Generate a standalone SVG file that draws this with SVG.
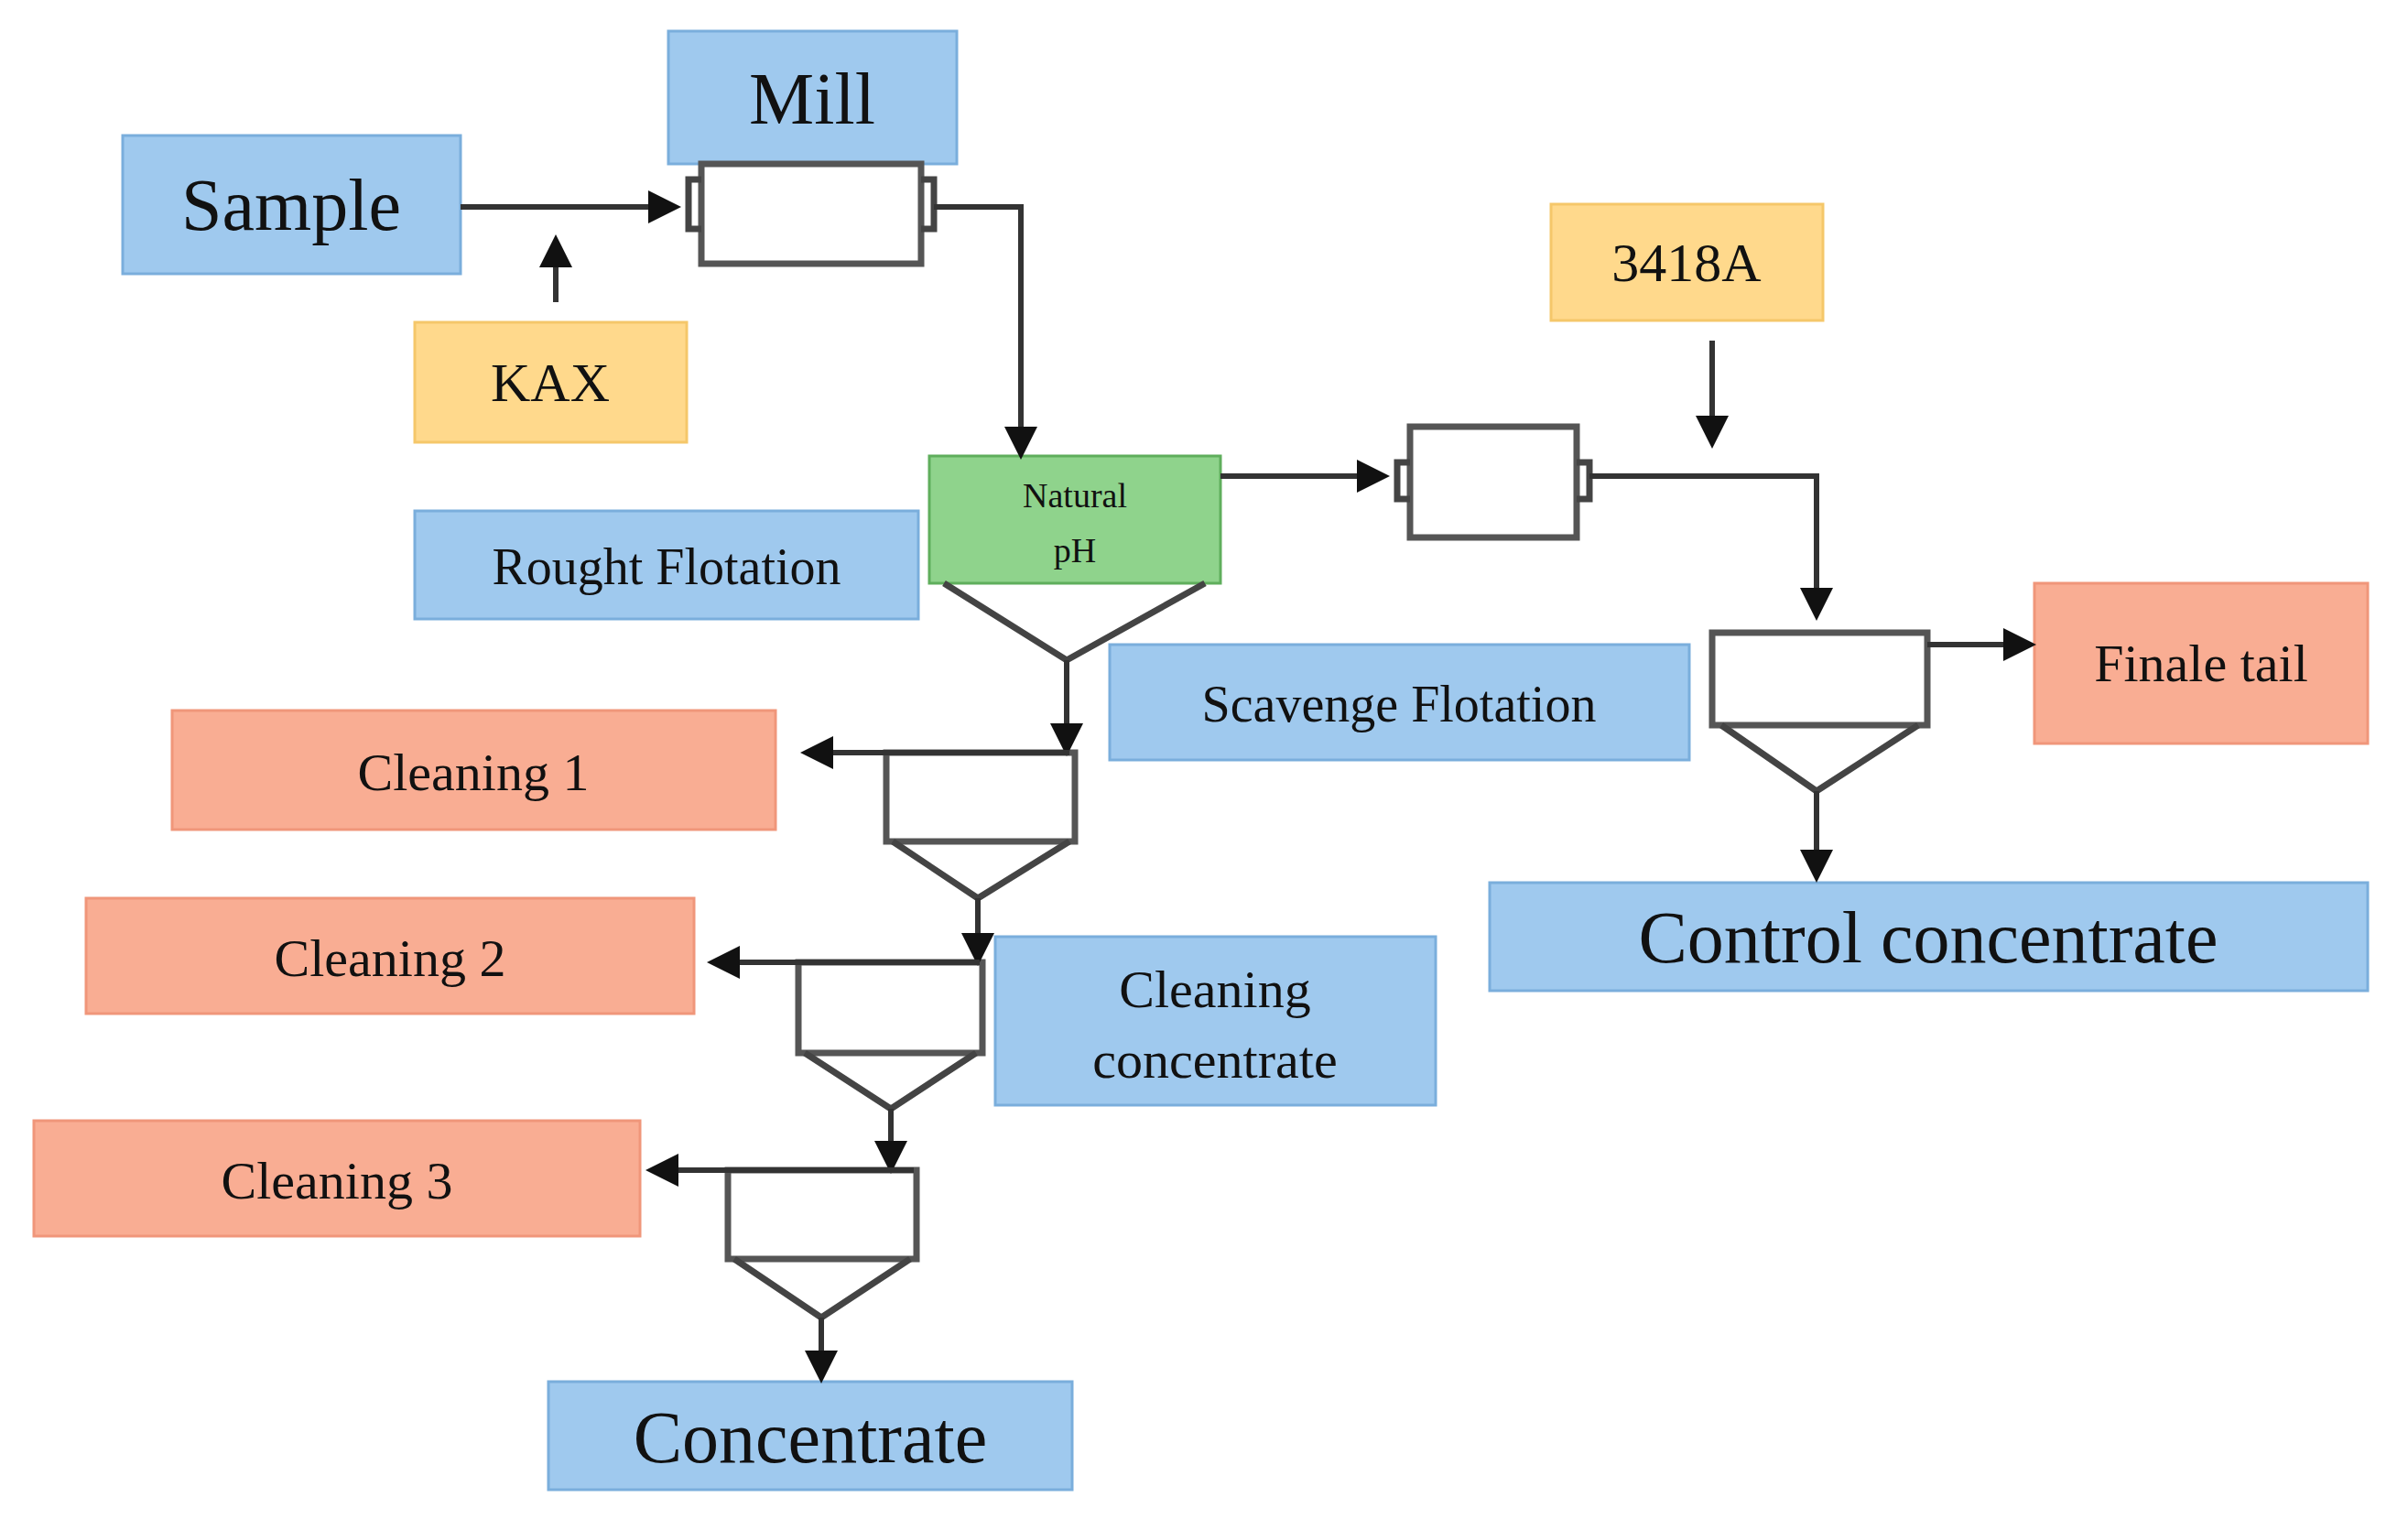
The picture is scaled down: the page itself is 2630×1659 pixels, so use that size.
<svg xmlns="http://www.w3.org/2000/svg" width="2630" height="1659" viewBox="0 0 2630 1659">
<defs>
<marker id="ah" markerWidth="6" markerHeight="6" refX="5" refY="3" orient="auto" markerUnits="strokeWidth"><path d="M0,0 L6,3 L0,6 z" fill="#111"/></marker>
</defs>
<style>
text{font-family:"Liberation Serif","Times New Roman",serif;fill:#111;text-anchor:middle;dominant-baseline:central}
.b{fill:#9fc9ee;stroke:#7aaedc;stroke-width:3}
.y{fill:#ffd98c;stroke:#f5c76a;stroke-width:3}
.r{fill:#f9ad93;stroke:#f0967a;stroke-width:3}
.g{fill:#8fd38c;stroke:#5fae5c;stroke-width:3}
.eq{fill:#fff;stroke:#555;stroke-width:7}
.ln{fill:none;stroke:#444;stroke-width:7}
.ar{fill:none;stroke:#333;stroke-width:6;marker-end:url(#ah)}
</style>
<g id="sample"><rect class="b" x="134" y="148" width="369" height="151"/><text x="318" y="224" font-size="80">Sample</text></g>
<g id="mill"><rect class="b" x="730" y="34" width="315" height="145"/><text x="887" y="108" font-size="80">Mill</text></g>
<g id="kax"><rect class="y" x="453" y="352" width="297" height="131"/><text x="601" y="418" font-size="60">KAX</text></g>
<g id="a3418"><rect class="y" x="1694" y="223" width="297" height="127"/><text x="1842" y="287" font-size="60">3418A</text></g>
<g id="rought"><rect class="b" x="453" y="558" width="550" height="118"/><text x="728" y="619" font-size="56">Rought Flotation</text></g>
<g id="scavenge"><rect class="b" x="1212" y="704" width="633" height="126"/><text x="1528" y="769" font-size="56">Scavenge Flotation</text></g>
<g id="finale"><rect class="r" x="2222" y="637" width="364" height="175"/><text x="2404" y="724" font-size="58">Finale tail</text></g>
<g id="control"><rect class="b" x="1627" y="964" width="959" height="118"/><text x="2106" y="1024" font-size="80">Control concentrate</text></g>
<g id="clean1"><rect class="r" x="188" y="776" width="659" height="130"/><text x="517" y="843" font-size="58">Cleaning 1</text></g>
<g id="clean2"><rect class="r" x="94" y="981" width="664" height="126"/><text x="426" y="1046" font-size="58">Cleaning 2</text></g>
<g id="clean3"><rect class="r" x="37" y="1224" width="662" height="126"/><text x="368" y="1289" font-size="58">Cleaning 3</text></g>
<g id="cleanconc"><rect class="b" x="1087" y="1023" width="481" height="184"/><text x="1327" y="1080" font-size="58">Cleaning</text><text x="1327" y="1157" font-size="58">concentrate</text></g>
<g id="concentrate"><rect class="b" x="599" y="1509" width="572" height="118"/><text x="885" y="1570" font-size="80">Concentrate</text></g>
<g id="mill-drum"><rect class="eq" x="766" y="179" width="240" height="109"/><path class="ln" d="M766,196 h-14 v54 h14 M1006,196 h14 v54 h-14" stroke-width="5"/></g>
<g id="scav-drum"><rect class="eq" x="1540" y="466" width="182" height="121"/><path class="ln" d="M1540,505 h-14 v40 h14 M1722,505 h14 v40 h-14" stroke-width="5"/></g>
<g id="rough-cell"><rect class="g" x="1015" y="498" width="318" height="139"/><text x="1174" y="541" font-size="38">Natural</text><text x="1174" y="601" font-size="38">pH</text><path class="ln" d="M1031,637 L1165,721 L1316,637" stroke-width="5"/></g>
<g id="scav-cell"><rect class="eq" x="1870" y="691" width="235" height="101"/><path class="ln" d="M1880,792 L1984,864 L2095,792" stroke-width="5"/></g>
<g id="cell1"><rect class="eq" x="968" y="822" width="206" height="97"/><path class="ln" d="M975,919 L1068,981 L1168,919" stroke-width="5"/></g>
<g id="cell2"><rect class="eq" x="872" y="1051" width="201" height="99"/><path class="ln" d="M879,1150 L973,1211 L1066,1150" stroke-width="5"/></g>
<g id="cell3"><rect class="eq" x="795" y="1278" width="206" height="97"/><path class="ln" d="M802,1375 L897,1439 L994,1375" stroke-width="5"/></g>
<g id="connectors">
<path class="ar" d="M503,226 H738"/>
<path class="ar" d="M607,330 V262"/>
<path class="ar" d="M1020,226 H1115 V496"/>
<path class="ar" d="M1333,520 H1512"/>
<path class="ar" d="M1736,520 H1984 V672"/>
<path class="ar" d="M1870,372 V484"/>
<path class="ar" d="M2105,704 H2218"/>
<path class="ar" d="M1984,864 V958"/>
<path class="ar" d="M1165,721 V820"/>
<path class="ar" d="M1168,822 H880"/>
<path class="ar" d="M1068,981 V1049"/>
<path class="ar" d="M1070,1051 H778"/>
<path class="ar" d="M973,1211 V1276"/>
<path class="ar" d="M998,1278 H711"/>
<path class="ar" d="M897,1439 V1505"/>
</g>
</svg>
